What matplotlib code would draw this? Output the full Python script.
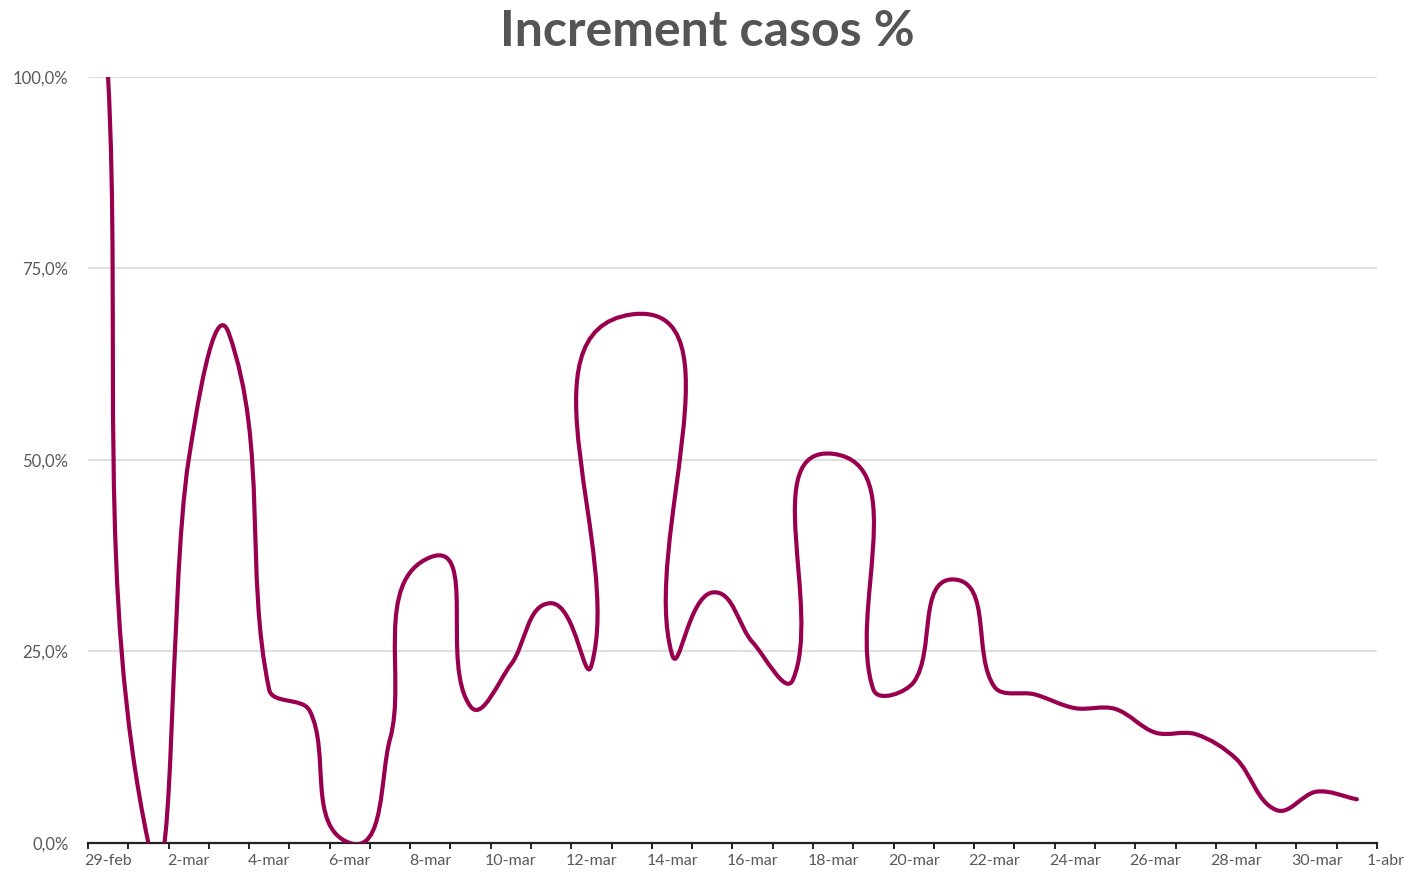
import numpy as np
import matplotlib
matplotlib.use('Agg')
import matplotlib.pyplot as plt
from matplotlib.path import Path
from matplotlib.patches import PathPatch
from matplotlib.ticker import FuncFormatter

plt.rcParams['font.family'] = ['Lato', 'DejaVu Sans']

# one point per day, 29-feb .. 31-mar
days = ['29-feb', '1-mar', '2-mar', '3-mar', '4-mar', '5-mar', '6-mar', '7-mar',
        '8-mar', '9-mar', '10-mar', '11-mar', '12-mar', '13-mar', '14-mar', '15-mar',
        '16-mar', '17-mar', '18-mar', '19-mar', '20-mar', '21-mar', '22-mar', '23-mar',
        '24-mar', '25-mar', '26-mar', '27-mar', '28-mar', '29-mar', '30-mar', '31-mar']
increment = [100.0, 0.0, 50.0, 66.5, 20.0, 17.3, 0.0, 13.6,
             37.3, 17.8, 23.3, 31.3, 23.2, 69.0, 24.6, 32.7,
             26.2, 21.3, 50.8, 20.0, 21.0, 34.4, 20.4, 19.4,
             17.6, 17.5, 14.4, 14.2, 11.0, 4.3, 6.7, 5.7]
last_label = '1-abr'

line_color = '#98004f'
text_color = '#595959'

fig = plt.figure(figsize=(14.07, 8.72), dpi=100)
ax = fig.add_axes([0.0625, 0.0333, 0.9162, 0.8784])
ax.set_xlim(-0.5, len(days) - 0.5)
ax.set_ylim(0, 100)

x = np.arange(len(days))
y = np.array(increment)

# smoothed line, bezier built in screen space (tangent from neighbours, arm = segment/3)
pts = ax.transData.transform(np.column_stack([x, y]))
tang = np.zeros_like(pts)
tang[1:-1] = pts[2:] - pts[:-2]
tang[0] = pts[1] - pts[0]
tang[-1] = pts[-1] - pts[-2]
unit = tang / np.linalg.norm(tang, axis=1)[:, None]
verts = [pts[0]]
codes = [Path.MOVETO]
for i in range(len(pts) - 1):
    arm = np.linalg.norm(pts[i + 1] - pts[i]) / 3
    verts += [pts[i] + unit[i] * arm, pts[i + 1] - unit[i + 1] * arm, pts[i + 1]]
    codes += [Path.CURVE4] * 3
verts = ax.transData.inverted().transform(np.array(verts))
ax.add_patch(PathPatch(Path(verts, codes), facecolor='none', edgecolor=line_color,
                       lw=3, capstyle='round', joinstyle='round', zorder=3))

# grid / axes styling
ax.set_yticks([0, 25, 50, 75, 100])
ax.yaxis.set_major_formatter(FuncFormatter(lambda v, p: f'{v:.1f}%'.replace('.', ',')))
ax.yaxis.grid(True, color='#d9d9d9', lw=1.2)
ax.set_axisbelow(True)
ax.tick_params(axis='y', length=0, pad=14, labelsize=12, labelcolor=text_color)
for s in ['top', 'right', 'left']:
    ax.spines[s].set_visible(False)
ax.spines['bottom'].set_color('#222222')
ax.spines['bottom'].set_linewidth(1.6)

ax.set_xticks(np.arange(-0.5, len(days)), minor=False)
ax.set_xticklabels([])
ax.tick_params(axis='x', which='major', direction='out', length=4.5, width=1.4, color='#222222')
ax.set_xticks(x[::2], minor=True)
ax.set_xticklabels(days[::2], minor=True)
ax.tick_params(axis='x', which='minor', length=0, pad=8, labelsize=11.5, labelcolor=text_color)
ax.annotate(last_label, xy=(len(days) - 0.28, 0), xycoords=ax.get_xaxis_transform(),
            xytext=(0, -8), textcoords='offset points', ha='center', va='top',
            fontsize=11.5, color=text_color, annotation_clip=False)

fig.text(0.503, 0.964, 'Increment casos %', ha='center', va='center',
         fontsize=36, fontweight='bold', color='#555555')

fig.savefig('out.png', dpi=100)
